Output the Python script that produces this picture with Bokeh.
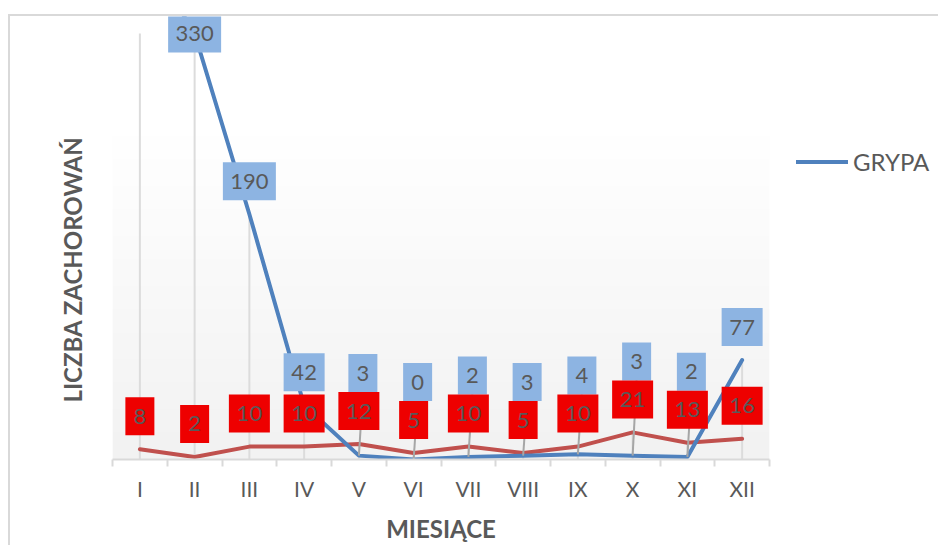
import numpy as np
from bokeh.plotting import figure
from bokeh.models import Range1d, FixedTicker, Legend, LegendItem, Title, ColumnDataSource
from bokeh.core.properties import value
from bokeh.embed import file_html
from bokeh.resources import INLINE

# ---------------- data ----------------
months = ["I", "II", "III", "IV", "V", "VI", "VII", "VIII", "IX", "X", "XI", "XII"]
# January lies above the value-axis maximum (clipped in the source chart, label hidden)
grypa = [400, 330, 190, 42, 3, 0, 2, 3, 4, 3, 2, 77]
druga = [8, 2, 10, 10, 12, 5, 10, 5, 10, 21, 13, 16]
series_name = "GRYPA"
x_title = "MIESIĄCE"
y_title = "LICZBA ZACHOROWAŃ"

# ---------------- layout / style ----------------
AXIS_MAX = 330
FRAME_W = 657
PLOT_H = 426            # px from 0 to AXIS_MAX
FRAME_H = 443
PPU = PLOT_H / AXIS_MAX
Y_END = FRAME_H / PPU
CAT_W = FRAME_W / 12
LBL_H = 38
LBL_OFF = 33
FONT = "Lato"
TXT = "#595959"
BLUE = "#4F81BD"
RED = "#C0504D"
BLUE_BOX = "#8DB4E2"
RED_BOX = "#EE0000"

xs = np.arange(1, len(months) + 1)
b = np.array(grypa, dtype=float)
r = np.array(druga, dtype=float)

p = figure(frame_width=FRAME_W, frame_height=FRAME_H,
           x_range=Range1d(0.5, 12.5), y_range=Range1d(0, Y_END),
           output_backend="svg", toolbar_location=None,
           min_border_left=102, min_border_right=169, min_border_top=0, min_border_bottom=84)
p.margin = (14, 0, 0, 8)
p.styles = {"border-top": "2px solid #D9D9D9", "border-left": "2px solid #D9D9D9"}
p.outline_line_color = None
p.xgrid.visible = False
p.ygrid.visible = False
p.yaxis.visible = False
p.background_fill_color = "white"
p.border_fill_color = "white"

# plot-area gradient (white at top -> light grey at bottom)
N = 128
frac = np.linspace(0, 1, N)
g = np.clip(frac / 0.76, 0, 1)
lvl = (242 + (255 - 242) * g).astype(np.uint32)
img = np.empty((N, 1), dtype=np.uint32)
view = img.view(dtype=np.uint8).reshape((N, 1, 4))
view[:, 0, 0] = lvl
view[:, 0, 1] = lvl
view[:, 0, 2] = lvl
view[:, 0, 3] = 255
p.image_rgba(image=[img], x=0.5, y=0, dw=12, dh=PLOT_H / PPU, level="image")

# drop lines
drop_top = np.minimum(np.maximum(b, r), AXIS_MAX)
p.segment(x0=xs, y0=np.zeros(len(xs)), x1=xs, y1=drop_top, line_color="#DCDCDC", line_width=2)

# series lines
red_line = p.line(xs, r, line_color=RED, line_width=4, line_cap="round", line_join="round")
blue_line = p.line(xs, b, line_color=BLUE, line_width=4, line_cap="round", line_join="round")

# label placement
def box_w(vals):
    return [17 + 12 * len(str(int(v))) for v in vals]

red_c = r * PPU + LBL_OFF
red_top = red_c + LBL_H / 2
blue_def = b * PPU + LBL_OFF
stacked = blue_def < red_top + LBL_H / 2
blue_c = np.where(stacked, red_top + LBL_H / 2, blue_def)
blue_c = np.minimum(blue_c, FRAME_H + 2 - LBL_H / 2)
shown = b <= AXIS_MAX
bx = xs + np.where(stacked, 4 / CAT_W, 0)

# leader lines for moved labels
lead = stacked & shown
p.segment(x0=xs[lead], y0=b[lead], x1=bx[lead], y1=(blue_c[lead] - LBL_H / 2) / PPU,
          line_color="#A6A6A6", line_width=2)

blue_src = ColumnDataSource(dict(x=bx[shown], y=blue_c[shown] / PPU,
                                 t=[str(int(v)) for v in b[shown]], w=box_w(b[shown])))
red_src = ColumnDataSource(dict(x=xs, y=red_c / PPU, t=[str(int(v)) for v in r], w=box_w(r)))

for src, col in ((blue_src, BLUE_BOX), (red_src, RED_BOX)):
    p.rect(x="x", y="y", width="w", height=LBL_H, width_units="screen", height_units="screen",
           source=src, fill_color=col, line_color=None)
    p.text(x="x", y="y", text="t", source=src, text_align="center", text_baseline="middle",
           text_font=value(FONT), text_font_size="22px", text_color=TXT)

# x axis
ax = p.xaxis[0]
ax.ticker = FixedTicker(ticks=list(xs), minor_ticks=[i + 0.5 for i in range(0, 13)])
ax.major_label_overrides = {int(i): m for i, m in zip(xs, months)}
ax.axis_line_color = "#D9D9D9"
ax.axis_line_width = 2
ax.major_tick_line_color = None
ax.major_tick_out = 0
ax.major_tick_in = 0
ax.minor_tick_line_color = "#D9D9D9"
ax.minor_tick_line_width = 2
ax.minor_tick_out = 7
ax.minor_tick_in = 0
ax.major_label_standoff = 9
ax.major_label_text_font = FONT
ax.major_label_text_font_size = "21px"
ax.major_label_text_color = TXT
ax.axis_label = x_title
ax.axis_label_text_font = FONT
ax.axis_label_text_font_size = "24px"
ax.axis_label_text_font_style = "bold"
ax.axis_label_text_color = TXT
ax.axis_label_standoff = 10

# y title (left panel)
p.add_layout(Title(text=y_title, align="left", offset=57, standoff=51,
                   text_font=FONT, text_font_size="24px", text_font_style="bold",
                   text_color=TXT), "left")

# legend (in the right-hand panel)
leg = Legend(items=[LegendItem(label=series_name, renderers=[blue_line])],
             location=(27, 283), glyph_width=52, glyph_height=25, label_height=25,
             label_standoff=5, padding=0, margin=0, border_line_color=None,
             background_fill_alpha=0, label_text_font=FONT, label_text_font_size="24px",
             label_text_color=TXT)
p.add_layout(leg, "right")

open("out.html", "w").write(file_html(p, INLINE))
